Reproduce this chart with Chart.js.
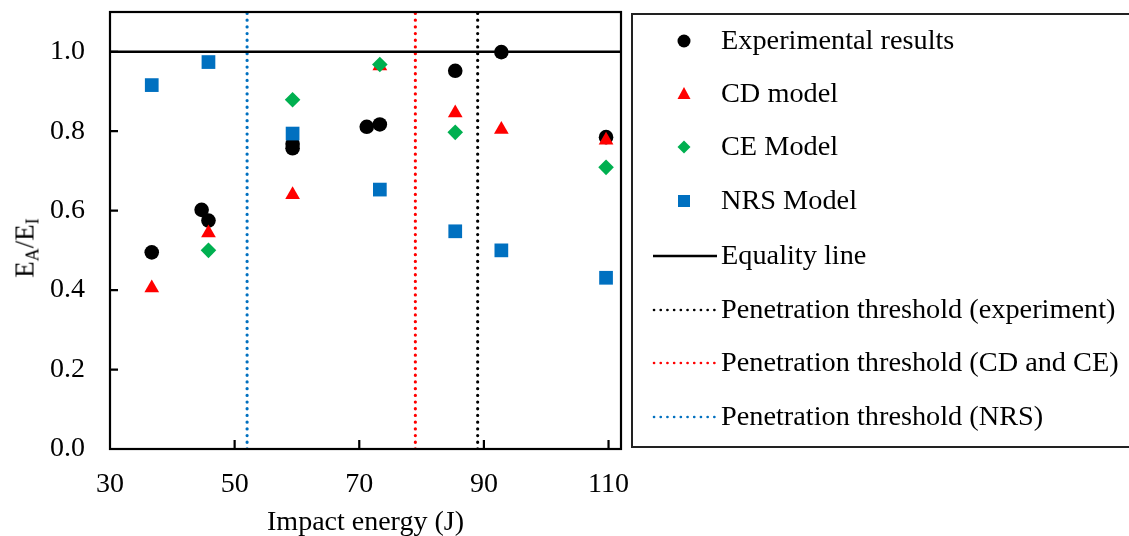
<!DOCTYPE html>
<html><head><meta charset="utf-8">
<script src="https://cdn.jsdelivr.net/npm/chart.js@4.4.1/dist/chart.umd.min.js"></script>
<style>
html,body{margin:0;padding:0;background:#fff;}
#wrap{position:relative;width:1129px;height:536px;overflow:hidden;font-family:"Liberation Serif","Times New Roman",serif;color:#000;}
#c{position:absolute;left:0;top:0;}
#ytitle{position:absolute;left:25px;top:248px;transform:translate(-50%,-50%) rotate(-90deg);font-size:27px;white-space:nowrap;line-height:1;}
#ytitle sub{font-size:18px;vertical-align:-5px;line-height:0;}
#legend{position:absolute;left:631px;top:13px;width:530px;height:435px;border:2px solid #222;box-sizing:border-box;}
.item{position:absolute;left:0;height:40px;display:flex;align-items:center;font-size:28.3px;white-space:nowrap;}
.item svg{position:absolute;left:18px;top:0;}
.item span{position:absolute;left:88px;top:50%;transform:translateY(-52%);}
</style></head>
<body>
<div id="wrap">
<canvas id="c" width="1129" height="536"></canvas>
<div id="ytitle">E<sub>A</sub>/E<sub>I</sub></div>
<div id="legend"></div>
</div>
<script>
// ---- data ----
const expEnergy = [36.7, 44.7, 45.8, 59.3, 59.3, 71.2, 73.3, 85.4, 92.8, 109.6];
const expRatio  = [0.495, 0.602, 0.575, 0.768, 0.757, 0.811, 0.817, 0.952, 0.999, 0.785];
const cdEnergy  = [36.7, 45.8, 59.3, 73.3, 85.4, 92.8, 109.6];
const cdRatio   = [0.405, 0.544, 0.640, 0.964, 0.846, 0.804, 0.777];
const ceEnergy  = [45.8, 59.3, 73.3, 85.4, 109.6];
const ceRatio   = [0.500, 0.879, 0.968, 0.797, 0.709];
const nrsEnergy = [36.7, 45.8, 59.3, 73.3, 85.4, 92.8, 109.6];
const nrsRatio  = [0.916, 0.974, 0.794, 0.653, 0.548, 0.500, 0.431];
const equalityX = [30, 112];
const equalityY = [1.0, 1.0];
const thresholdExp = 89;
const thresholdCDCE = 79;
const thresholdNRS = 52;
const thresholdY = [0, 1.1];
const xTicks = [30, 50, 70, 90, 110];
const yTicks = [0.0, 0.2, 0.4, 0.6, 0.8, 1.0];
const legendLabels = ["Experimental results","CD model","CE Model","NRS Model","Equality line",
  "Penetration threshold (experiment)","Penetration threshold (CD and CE)","Penetration threshold (NRS)"];

const pts = (xs, ys) => xs.map((x, i) => ({x, y: ys[i]}));
const vline = (x) => thresholdY.map(y => ({x, y}));
const FONT = '"Liberation Serif","Times New Roman",serif';

const datasets = [
  {label: legendLabels[0], data: pts(expEnergy, expRatio), pointStyle:'circle', pointRadius:7.3, backgroundColor:'#000', borderColor:'#000', borderWidth:0, order:4, kind:'marker'},
  {label: legendLabels[1], data: pts(cdEnergy, cdRatio), pointStyle:'triangle', pointRadius:8.5, backgroundColor:'#FF0000', borderColor:'#FF0000', borderWidth:0, order:3, kind:'marker'},
  {label: legendLabels[2], data: pts(ceEnergy, ceRatio), pointStyle:'rectRot', pointRadius:7.8, backgroundColor:'#00B050', borderColor:'#00B050', borderWidth:0, order:2, kind:'marker'},
  {label: legendLabels[3], data: pts(nrsEnergy, nrsRatio), pointStyle:'rect', pointRadius:9.7, backgroundColor:'#0070C0', borderColor:'#0070C0', borderWidth:0, order:1, kind:'marker'},
  {label: legendLabels[4], data: pts(equalityX, equalityY), showLine:true, pointRadius:0, borderColor:'#000', borderWidth:2.6, order:5, kind:'solid'},
  {label: legendLabels[5], data: vline(thresholdExp), showLine:true, pointRadius:0, borderColor:'#000', borderWidth:3.2, borderDash:[0.1,6.6], borderCapStyle:'round', order:6, kind:'dot'},
  {label: legendLabels[6], data: vline(thresholdCDCE), showLine:true, pointRadius:0, borderColor:'#FF0000', borderWidth:3.2, borderDash:[0.1,6.6], borderCapStyle:'round', order:7, kind:'dot'},
  {label: legendLabels[7], data: vline(thresholdNRS), showLine:true, pointRadius:0, borderColor:'#0070C0', borderWidth:3.2, borderDash:[0.1,6.6], borderCapStyle:'round', order:8, kind:'dot'}
];

const framePlugin = {
  id: 'frame',
  afterDraw(chart) {
    const {ctx, chartArea: a, scales} = chart;
    ctx.save();
    ctx.strokeStyle = '#000';
    ctx.lineWidth = 2.2;
    ctx.strokeRect(a.left, a.top, a.right - a.left, a.bottom - a.top);
    ctx.beginPath();
    scales.x.ticks.forEach(t => {
      const px = scales.x.getPixelForValue(t.value);
      if (px > a.left + 1 && px < a.right - 1) { ctx.moveTo(px, a.bottom); ctx.lineTo(px, a.bottom - 9); }
    });
    scales.y.ticks.forEach(t => {
      const py = scales.y.getPixelForValue(t.value);
      if (py < a.bottom - 1 && py > a.top + 1) { ctx.moveTo(a.left, py); ctx.lineTo(a.left + 8, py); }
    });
    ctx.stroke();
    ctx.restore();
  }
};

new Chart(document.getElementById('c'), {
  type: 'scatter',
  data: {datasets},
  options: {
    responsive: false,
    animation: false,
    events: [],
    layout: {padding: {left: 0, right: 508, top: 12, bottom: 0}},
    plugins: {legend: {display: false}, tooltip: {enabled: false}},
    scales: {
      x: {
        type: 'linear', min: 30, max: 112,
        afterFit(s) { s.height = 87; s.paddingLeft = 0; s.paddingRight = 0; },
        grid: {display: false}, border: {display: false},
        afterBuildTicks(s) { s.ticks = xTicks.map(v => ({value: v})); },
        ticks: {font: {family: FONT, size: 28}, color: '#000', padding: 11, maxRotation: 0,
          callback: v => String(v)},
        title: {display: true, text: 'Impact energy (J)', font: {family: FONT, size: 28}, color: '#000', padding: {top: 0, bottom: -3}}
      },
      y: {
        type: 'linear', min: 0, max: 1.1,
        afterFit(s) { s.width = 110; s.paddingTop = 0; s.paddingBottom = 0; },
        grid: {display: false}, border: {display: false},
        afterBuildTicks(s) { s.ticks = yTicks.map(v => ({value: v})); },
        ticks: {font: {family: FONT, size: 28}, color: '#000', padding: 17,
          callback: v => Number(v).toFixed(1)}
      }
    }
  },
  plugins: [framePlugin]
});

// ---- HTML legend built from the datasets ----
const legendEl = document.getElementById('legend');
const rowCenters = [26, 79, 132, 186, 241, 295, 348, 402];
datasets.forEach((d, i) => {
  const item = document.createElement('div');
  item.className = 'item';
  item.style.top = (rowCenters[i] - 20) + 'px';
  let svg = '';
  const c = d.backgroundColor || d.borderColor;
  const cx = 33, cy = 20;
  if (d.kind === 'marker') {
    if (d.pointStyle === 'circle') svg = `<circle cx="${cx}" cy="${cy}" r="6.5" fill="${c}"/>`;
    else if (d.pointStyle === 'triangle') svg = `<polygon points="${cx},${cy-7} ${cx+6.5},${cy+5} ${cx-6.5},${cy+5}" fill="${c}"/>`;
    else if (d.pointStyle === 'rectRot') svg = `<polygon points="${cx},${cy-6.5} ${cx+6.5},${cy} ${cx},${cy+6.5} ${cx-6.5},${cy}" fill="${c}"/>`;
    else svg = `<rect x="${cx-6}" y="${cy-6}" width="12" height="12" fill="${c}"/>`;
  } else if (d.kind === 'solid') {
    svg = `<line x1="2" y1="${cy}" x2="66" y2="${cy}" stroke="${c}" stroke-width="2.6"/>`;
  } else {
    svg = `<line x1="3" y1="${cy}" x2="66" y2="${cy}" stroke="${c}" stroke-width="2.6" stroke-dasharray="0.1 6.6" stroke-linecap="round"/>`;
  }
  item.innerHTML = `<svg width="70" height="40" viewBox="0 0 70 40">${svg}</svg><span>${d.label}</span>`;
  legendEl.appendChild(item);
});
</script>
</body></html>
